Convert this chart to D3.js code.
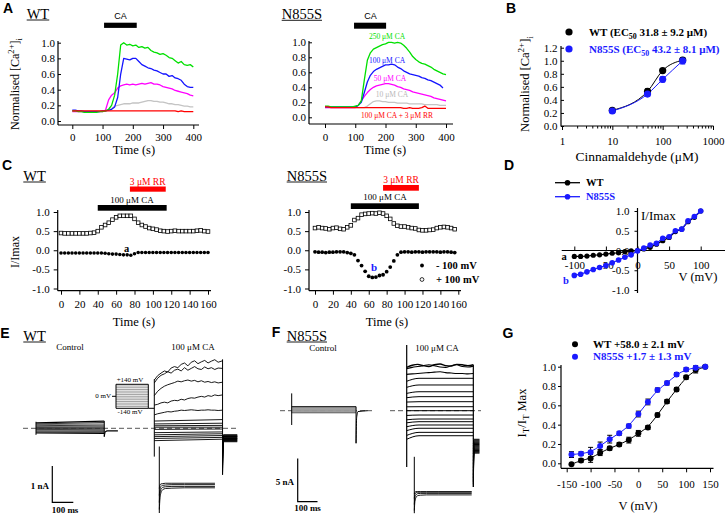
<!DOCTYPE html>
<html><head><meta charset="utf-8">
<script src="https://cdn.jsdelivr.net/npm/d3@7/dist/d3.min.js"></script>
<style>html,body{margin:0;padding:0;background:#fff;overflow:hidden}</style>
</head><body>
<script>
// ================= DATA =================
// Panel A: normalised [Ca2+]i time courses (time in s)
const aTime=[0,10,20,30,40,50,60,70,80,90,100,110,120,130,140,150,160,170,180,190,200,210,220,230,240,250,260,270,280,290,300,310,320,330,340,350,360,370,380,390,400];
const aWtGreen=[0.13,0.13,0.12,0.12,0.11,0.11,0.11,0.11,0.11,0.12,0.12,0.13,0.15,0.2,0.33,0.6,0.97,1.0,0.97,0.98,0.96,0.97,0.94,0.95,0.93,0.94,0.9,0.88,0.87,0.85,0.86,0.84,0.81,0.8,0.77,0.74,0.76,0.72,0.71,0.72,0.69];
const aWtBlue=[0.14,0.14,0.13,0.13,0.12,0.12,0.12,0.12,0.12,0.12,0.13,0.13,0.14,0.15,0.18,0.3,0.6,0.8,0.79,0.78,0.8,0.8,0.76,0.72,0.7,0.68,0.67,0.65,0.64,0.62,0.6,0.6,0.57,0.58,0.55,0.54,0.52,0.47,0.44,0.43,0.43];
const aWtMagenta=[0.12,0.12,0.12,0.12,0.12,0.12,0.12,0.12,0.12,0.12,0.12,0.14,0.27,0.33,0.36,0.42,0.45,0.46,0.47,0.46,0.47,0.46,0.47,0.48,0.47,0.48,0.49,0.47,0.47,0.46,0.44,0.43,0.42,0.41,0.39,0.38,0.37,0.36,0.35,0.33,0.32];
const aWtGray=[0.13,0.13,0.13,0.13,0.13,0.13,0.13,0.13,0.13,0.13,0.13,0.13,0.14,0.16,0.19,0.2,0.21,0.22,0.22,0.22,0.23,0.23,0.23,0.24,0.25,0.26,0.26,0.25,0.25,0.24,0.24,0.23,0.22,0.22,0.21,0.21,0.2,0.19,0.19,0.18,0.18];
const aWtRed=[0.13,0.13,0.13,0.13,0.13,0.13,0.13,0.13,0.13,0.13,0.13,0.13,0.13,0.13,0.13,0.13,0.13,0.13,0.13,0.13,0.13,0.13,0.13,0.13,0.13,0.13,0.13,0.13,0.13,0.13,0.13,0.13,0.13,0.13,0.13,0.12,0.13,0.12,0.12,0.12,0.12];
const aMutGreen=[0.15,0.15,0.14,0.14,0.14,0.14,0.14,0.14,0.14,0.14,0.15,0.16,0.22,0.5,0.76,0.86,0.91,0.93,0.95,0.97,0.98,1.0,1.0,0.99,1.0,0.99,0.96,0.92,0.87,0.81,0.77,0.74,0.72,0.71,0.69,0.67,0.64,0.62,0.6,0.58,0.57];
const aMutBlue=[0.14,0.14,0.14,0.14,0.14,0.14,0.14,0.14,0.14,0.14,0.14,0.16,0.2,0.33,0.47,0.56,0.61,0.64,0.66,0.68,0.7,0.7,0.71,0.7,0.67,0.65,0.62,0.6,0.58,0.57,0.56,0.55,0.53,0.52,0.5,0.49,0.47,0.45,0.43,0.39];
const aMutMagenta=[0.13,0.13,0.13,0.13,0.13,0.13,0.13,0.13,0.13,0.13,0.13,0.16,0.22,0.28,0.33,0.37,0.4,0.42,0.43,0.44,0.45,0.45,0.44,0.43,0.41,0.4,0.38,0.37,0.36,0.34,0.33,0.32,0.31,0.3,0.29,0.28,0.26,0.25,0.24,0.23,0.22];
const aMutGray=[0.13,0.13,0.13,0.13,0.13,0.13,0.13,0.13,0.13,0.13,0.13,0.13,0.13,0.13,0.15,0.18,0.21,0.22,0.22,0.21,0.21,0.2,0.2,0.2,0.19,0.19,0.19,0.19,0.18,0.18,0.18,0.18,0.18,0.17,0.17,0.17,0.17,0.17,0.16,0.16,0.16];
const aMutRed=[0.14,0.14,0.13,0.13,0.13,0.13,0.13,0.13,0.13,0.13,0.13,0.13,0.13,0.13,0.13,0.13,0.13,0.13,0.13,0.13,0.13,0.13,0.13,0.13,0.13,0.13,0.12,0.12,0.13,0.12,0.12,0.12,0.13,0.15,0.12,0.12,0.12,0.12,0.12,0.12,0.12];
const aMutLabels=["250 μM CA","100 μM CA","50 μM CA","10 μM CA","100 μM CA + 3 μM RR"];
const aCaBarWt=[105,213], aCaBarMut=[96,202];
const aTicksX=[0,100,200,300,400], aTicksY=[0,0.2,0.4,0.6,0.8,1.0];

// Panel B: dose response
const bConc=[10,50,100,250];
const bWt=[0.24,0.53,0.85,1.01], bWtErr=[0.02,0.04,0.03,0.03];
const bMut=[0.23,0.49,0.715,1.0], bMutErr=[0.02,0.03,0.04,0.05];
const bTicksX=[1,10,100,1000], bMinorX=[2,3,4,5,6,7,8,9,20,30,40,50,60,70,80,90,200,300,400,500,600,700,800,900];
const bTicksY=[0,0.2,0.4,0.6,0.8,1.0,1.2];

// Panel C: I/Imax vs time (s)
const cTime=[0,4,8,12,16,20,24,28,32,36,40,44,48,52,56,60,64,68,72,76,80,84,88,92,96,100,104,108,112,116,120,124,128,132,136,140,144,148,152,156,160];
const cWtPos=[0.45,0.44,0.44,0.44,0.44,0.44,0.44,0.44,0.45,0.46,0.5,0.6,0.66,0.72,0.8,0.86,0.9,0.9,0.9,0.9,0.82,0.72,0.66,0.62,0.58,0.56,0.54,0.51,0.5,0.49,0.5,0.51,0.5,0.5,0.5,0.5,0.5,0.51,0.52,0.5,0.49];
const cWtNeg=[-0.07,-0.07,-0.07,-0.07,-0.07,-0.07,-0.07,-0.07,-0.07,-0.07,-0.07,-0.07,-0.08,-0.09,-0.1,-0.1,-0.11,-0.12,-0.12,-0.13,-0.09,-0.06,-0.06,-0.06,-0.06,-0.06,-0.06,-0.06,-0.06,-0.06,-0.06,-0.06,-0.06,-0.06,-0.06,-0.06,-0.06,-0.06,-0.06,-0.06,-0.06];
const cMutPos=[0.58,0.6,0.58,0.57,0.55,0.58,0.59,0.56,0.55,0.6,0.65,0.79,0.84,0.93,0.95,0.96,0.97,0.96,0.98,0.96,0.9,0.82,0.7,0.64,0.62,0.62,0.6,0.58,0.57,0.53,0.52,0.52,0.53,0.54,0.58,0.6,0.61,0.6,0.58,0.55];
const cMutNeg=[-0.04,-0.05,-0.05,-0.06,-0.05,-0.05,-0.04,-0.04,-0.04,-0.06,-0.08,-0.12,-0.27,-0.4,-0.55,-0.68,-0.71,-0.7,-0.66,-0.64,-0.56,-0.44,-0.28,-0.12,-0.05,-0.04,-0.04,-0.05,-0.04,-0.04,-0.05,-0.04,-0.04,-0.04,-0.04,-0.05,-0.04,-0.04,-0.05,-0.06];
const cCaBarWt=[40,115], cRrBarWt=[75,114], cCaBarMut=[40,116], cRrBarMut=[76,116];
const cTicksX=[0,20,40,60,80,100,120,140,160], cTicksY=[-1,-0.5,0,0.5,1];

// Panel D: I-V
const dV=[-100,-90,-80,-70,-60,-50,-40,-30,-20,-10,0,10,20,30,40,50,60,70,80,90,100];
const dWt=[-0.15,-0.15,-0.14,-0.12,-0.11,-0.09,-0.07,-0.06,-0.03,-0.01,0,0.04,0.08,0.16,0.25,0.33,0.48,0.54,0.73,0.84,1.0];
const dMut=[-0.63,-0.6,-0.54,-0.48,-0.43,-0.38,-0.31,-0.24,-0.17,-0.11,-0.01,0.06,0.14,0.18,0.31,0.35,0.5,0.54,0.75,0.86,1.0];
const dTicksX=[-100,-50,0,50,100], dTicksY=[-1,-0.5,0,0.5,1];

// Panel E (WT currents, nA vs ms)
const eProtocolV=[-140,-120,-100,-80,-60,-40,-20,0,20,40,60,80,100,120,140];
const eCtrlEarly=[-0.13,-0.11,-0.09,-0.07,-0.05,-0.03,-0.01,0,0.02,0.03,0.05,0.07,0.1,0.12,0.15];
const eCtrlLate=[-0.14,-0.12,-0.1,-0.08,-0.06,-0.04,-0.02,0,0.02,0.04,0.06,0.09,0.12,0.16,0.2];
const eCtrlSpikes=[0.18,-0.18], eCtrlEndSpike=[0.2,-0.23];
const eCtrlTailT=[0,5,15,65], eCtrlTailV=[-0.23,-0.1,-0.07,-0.07];
const eSampleT=[0,16,32,48,64,80,96,112,128,144,160,176,192,208,224,240,256,272,288,304,325];
const eCaTop=[
 [1.33,1.45,1.52,1.58,1.55,1.66,1.7,1.67,1.76,1.8,1.72,1.82,1.86,1.78,1.83,1.87,1.8,1.85,1.89,1.82,1.86],
 [1.25,1.38,1.46,1.5,1.56,1.52,1.6,1.63,1.58,1.67,1.6,1.65,1.7,1.64,1.62,1.69,1.64,1.67,1.62,1.66,1.65],
 [0.9,1.02,1.1,1.16,1.2,1.23,1.26,1.3,1.28,1.31,1.33,1.3,1.32,1.28,1.31,1.27,1.29,1.26,1.28,1.25,1.27],
 [0.64,0.66,0.7,0.72,0.7,0.75,0.77,0.76,0.8,0.78,0.82,0.84,0.83,0.86,0.88,0.86,0.9,0.88,0.92,0.9,0.92],
 [0.37,0.4,0.42,0.44,0.46,0.45,0.47,0.48,0.5,0.49,0.5,0.51,0.5,0.49,0.5,0.5,0.51,0.5,0.5,0.49,0.5]];
const eCaLowEarly=[-0.34,-0.28,-0.23,-0.18,-0.12,-0.03,0.03,0.07,0.12,0.2];
const eCaLowLate=[-0.3,-0.25,-0.2,-0.15,-0.1,-0.02,0.03,0.08,0.14,0.24];
const eCaOnset=[1.35,-0.78], eCaEnd=[1.9,-1.28];
const eCaTailPeak=[-0.42,-0.46,-0.5,-0.55,-0.6,-0.65,-0.7,-0.76,-0.82,-0.88,-0.95,-1.02,-1.1,-1.2,-1.28];
const eCaTailEnd=[-0.37,-0.35,-0.34,-0.32,-0.31,-0.29,-0.28,-0.27,-0.26,-0.24,-0.23,-0.22,-0.21,-0.19,-0.18];
const eInsetT=[0,3,8,15,30,60,120,265];
const eInset=[[-0.9,-0.6,-0.42,-0.34,-0.3,-0.29,-0.28,-0.28],[-0.7,-0.45,-0.32,-0.27,-0.25,-0.24,-0.24,-0.24],[-0.5,-0.32,-0.24,-0.21,-0.2,-0.19,-0.19,-0.19],[-0.3,-0.2,-0.17,-0.16,-0.15,-0.15,-0.15,-0.15]];
const eInsetSpike=[0.9,-1.0];

// Panel F (N855S currents)
const fCtrlLevel=[-0.23,-0.18,-0.13,-0.08,-0.03,0,0.03,0.08,0.13,0.18,0.23,0.28,0.34,0.4,0.46];
const fCtrlOnset=[2.0,-1.65], fCtrlEnd=[0.46,-3.76];
const fCtrlTailT=[0,3,10,60], fCtrlTailV=[-3.76,-0.8,-0.1,0];
const fSampleT=[0,27,54,81,108,135,163,190,217,244,271,298,325];
const fCaTop=[
 [5.0,5.25,5.35,5.2,5.1,5.3,5.4,5.2,5.15,5.35,5.3,5.2,5.3],
 [4.85,5.0,5.1,5.2,5.3,5.2,5.05,5.0,5.2,5.3,5.1,5.05,5.15],
 [4.2,4.25,4.3,4.35,4.4,4.45,4.5,4.4,4.35,4.3,4.3,4.25,4.3]];
const fCaLowEarly=[-3.3,-2.85,-2.3,-1.85,-1.4,-1.05,-0.55,0,0.45,1.0,1.5,2.0,2.7,3.4];
const fCaLowLate=[-2.89,-2.5,-2.03,-1.65,-1.27,-0.96,-0.5,0,0.46,1.04,1.62,2.19,2.97,3.74];
const fCaOnset=[7.6,-6.5], fCaEnd=[5.3,-8.8];
const fCaTailPeak=[-3.2,-3.5,-3.8,-4.1,-4.4,-4.7,-5.0,-5.4,-5.8,-6.2,-6.6,-7.0,-7.4,-7.8,-8.2,-8.5,-8.8];
const fCaTailEnd=[-3.3,-3.4,-3.5,-3.6,-3.7,-3.8,-3.9,-4.0,-4.1,-4.2,-4.3,-4.4,-4.5,-4.6,-4.7,-4.8,-4.9];
const fInsetT=[0,3,8,15,30,60,120,280];
const fInset=[[-0.85,-0.55,-0.42,-0.36,-0.34,-0.33,-0.33,-0.33],[-0.65,-0.42,-0.33,-0.29,-0.28,-0.28,-0.28,-0.28],[-0.45,-0.3,-0.26,-0.24,-0.24,-0.24,-0.24,-0.24],[-0.3,-0.24,-0.22,-0.22,-0.22,-0.22,-0.22,-0.22]];
const fInsetSpike=[0.94,-0.94];

// Panel G: I_T/I_T Max vs V
const gV=[-140,-120,-100,-80,-60,-40,-20,0,20,40,60,80,100,120,140];
const gWt=[-0.01,0.03,0.05,0.11,0.155,0.195,0.24,0.31,0.37,0.5,0.64,0.765,0.89,0.965,1.0];
const gWtErr=[0.01,0.02,0.04,0.03,0.02,0.02,0.03,0.03,0.02,0.02,0.02,0.02,0.02,0.03,0.01];
const gMut=[0.09,0.1,0.115,0.18,0.25,0.31,0.385,0.51,0.635,0.76,0.83,0.92,0.97,0.99,1.0];
const gMutErr=[0.03,0.02,0.05,0.04,0.04,0.02,0.02,0.03,0.03,0.02,0.02,0.02,0.02,0.02,0.01];
const gTicksX=[-150,-100,-50,0,50,100,150], gTicksY=[0,0.2,0.4,0.6,0.8,1.0];

// ================= DRAWING =================
const SERIF="'Liberation Serif','Times New Roman',serif", SANS="'Liberation Sans',Arial,sans-serif";
const GREEN="#00e000", BLUEA="#1414ff", MAG="#ff00ff", GRAY="#c4c4c4", RED="#ff0000", BLUE="#1a1aff";
const svg=d3.select("body").append("svg").attr("width",726).attr("height",515).style("display","block").style("background","#fff");
const f1=d=>d.toFixed(1), fi=d=>String(d);

function txt(x,yc,s,o={}){
  const fs=o.size||11;
  const t=svg.append("text").attr("x",x).attr("y",yc+0.34*fs).attr("text-anchor",o.anchor||"middle")
    .attr("font-family",o.family||SERIF).attr("font-size",fs).attr("font-weight",o.weight||"normal")
    .attr("fill",o.color||"#000").text(s);
  return t;
}
function rich(x,yc,parts,o={}){
  const fs=o.size||11;
  let bx=x, by=yc+0.34*fs;
  if(o.rotate){bx=x+0.34*fs; by=yc;}
  const t=svg.append("text").attr("x",bx).attr("y",by).attr("text-anchor",o.anchor||"start")
    .attr("font-family",o.family||SERIF).attr("font-size",fs).attr("font-weight",o.weight||"normal")
    .attr("fill",o.color||"#000");
  if(o.rotate) t.attr("transform",`rotate(-90,${bx},${by})`);
  let shift=0;
  parts.forEach(p=>{
    const s=p.sup?-0.4*fs:p.sub?0.28*fs:0;
    t.append("tspan").attr("dy",s-shift).attr("font-size",(p.sup||p.sub)?fs*0.72:fs).text(p.t);
    shift=s;
  });
  return t;
}
function letter(x,yc,s){ txt(x,yc,s,{family:SANS,weight:"bold",size:14}); }
function underlined(x,yc,s,size){
  const t=txt(x,yc,s,{anchor:"start",size:size||14.5});
  const w=t.node().getComputedTextLength();
  svg.append("line").attr("x1",x).attr("x2",x+w).attr("y1",yc+6).attr("y2",yc+6).attr("stroke","#000").attr("stroke-width",0.9);
}
function styleAxis(g){
  g.select(".domain").remove();
  g.selectAll(".tick text").attr("font-family",SERIF).attr("font-size",11).attr("fill","#000");
  g.selectAll(".tick line").attr("stroke","#000").attr("stroke-width",1);
}
function xAxis(sc,y,ticks,fmt,x0,x1,ts,pad){
  const g=svg.append("g").attr("transform",`translate(0,${y})`)
    .call(d3.axisBottom(sc).tickValues(ticks).tickFormat(fmt).tickSize(ts).tickPadding(pad));
  styleAxis(g);
  g.append("line").attr("x1",x0).attr("x2",x1).attr("stroke","#000").attr("stroke-width",1.2);
  return g;
}
function yAxis(sc,x,ticks,fmt,y0,y1,ts,pad){
  const g=svg.append("g").attr("transform",`translate(${x},0)`)
    .call(d3.axisLeft(sc).tickValues(ticks).tickFormat(fmt).tickSize(ts).tickPadding(pad));
  styleAxis(g);
  g.append("line").attr("y1",y0).attr("y2",y1).attr("stroke","#000").attr("stroke-width",1.2);
  return g;
}
function path(pts,xs,ys,color,w,curve){
  const ln=d3.line().x(d=>xs(d[0])).y(d=>ys(d[1]));
  if(curve) ln.curve(curve);
  return svg.append("path").attr("d",ln(pts)).attr("fill","none").attr("stroke",color).attr("stroke-width",w).attr("stroke-linejoin","round");
}
const zip=(t,v)=>v.map((d,i)=>[t[i],d]);
function vline(x,ya,yb,w,c){svg.append("line").attr("x1",x).attr("x2",x).attr("y1",ya).attr("y2",yb).attr("stroke",c||"#000").attr("stroke-width",w||1);}
function hbar(xs,range,y,h,color){svg.append("rect").attr("x",xs(range[0])).attr("width",xs(range[1])-xs(range[0])).attr("y",y).attr("height",h).attr("fill",color);}

// ---------- Panel A ----------
letter(8,8,"A"); underlined(26.7,14,"WT"); underlined(281.7,14.3,"N855S");
const axW=d3.scaleLinear().domain([0,400]).range([72.3,193.3]);
const ayW=d3.scaleLinear().domain([0,1]).range([121,42.7]);
xAxis(axW,125,aTicksX,fi,58,199,4,4);
yAxis(ayW,58,aTicksY,f1,41,125,-3,3);
txt(134,150,"Time (s)",{size:12.5});
rich(15,84,[{t:"Normalised [Ca"},{t:"2+",sup:true},{t:"]"},{t:"i",sub:true}],{rotate:true,anchor:"middle",size:12});
hbar(axW,aCaBarWt,22.7,5.2,"#000"); txt(120.5,16.3,"CA",{family:SANS,size:9});
[[aWtGray,GRAY],[aWtMagenta,MAG],[aWtBlue,BLUEA],[aWtGreen,GREEN],[aWtRed,RED]].forEach(s=>path(zip(aTime,s[0]),axW,ayW,s[1],1.3));

const axM=d3.scaleLinear().domain([0,400]).range([325,446]);
const ayM=d3.scaleLinear().domain([0,1]).range([117.3,42.3]);
xAxis(axM,124,aTicksX,fi,309,453,4,5);
yAxis(ayM,309,aTicksY,f1,41,124,-3,3);
txt(385,150,"Time (s)",{size:12.5});
hbar(axM,aCaBarMut,22.7,6,"#000"); txt(370.5,16,"CA",{family:SANS,size:9});
[[aMutGray,GRAY],[aMutMagenta,MAG],[aMutBlue,BLUEA],[aMutGreen,GREEN],[aMutRed,RED]].forEach(s=>path(zip(aTime,s[0]),axM,ayM,s[1],1.3));
[[387,36,GREEN],[387,60,BLUEA],[390,78,MAG],[392,94,"#b8b8b8"],[397,115,RED]].forEach((p,i)=>txt(p[0],p[1],aMutLabels[i],{size:7.5,color:p[2]}));

// ---------- Panel B ----------
letter(511,8,"B");
const bx=d3.scaleLog().domain([1,1000]).range([562,713]);
const by=d3.scaleLinear().domain([0,1.2]).range([126,47.7]);
xAxis(bx,126,bTicksX,fi,561,713.5,4,7);
{const g=svg.append("g").attr("transform","translate(0,126)").call(d3.axisBottom(bx).tickValues(bMinorX).tickFormat("").tickSize(2.5)); styleAxis(g);}
yAxis(by,561,bTicksY,f1,46,126.5,-3,3.5);
txt(637,156,"Cinnamaldehyde (μM)",{size:13.5});
rich(525,84,[{t:"Normalised [Ca"},{t:"2+",sup:true},{t:"]"},{t:"i",sub:true}],{rotate:true,anchor:"middle",size:12.5});
function errs(xs,ys,xv,yv,ev,c,cap){
  xv.forEach((x,i)=>{const X=xs(x);
    svg.append("line").attr("x1",X).attr("x2",X).attr("y1",ys(yv[i]-ev[i])).attr("y2",ys(yv[i]+ev[i])).attr("stroke",c).attr("stroke-width",1);
    [yv[i]-ev[i],yv[i]+ev[i]].forEach(e=>svg.append("line").attr("x1",X-cap).attr("x2",X+cap).attr("y1",ys(e)).attr("y2",ys(e)).attr("stroke",c).attr("stroke-width",1));});
}
function circles(xs,ys,xv,yv,r,fill,stroke,sw){
  svg.append("g").selectAll("circle").data(yv).join("circle").attr("cx",(d,i)=>xs(xv[i])).attr("cy",d=>ys(d)).attr("r",r)
    .attr("fill",fill).attr("stroke",stroke||"none").attr("stroke-width",sw||0);
}
errs(bx,by,bConc,bWt,bWtErr,"#000",2.5);
errs(bx,by,bConc,bMut,bMutErr,BLUE,2.5);
path(zip(bConc,bWt),bx,by,"#000",1,d3.curveMonotoneX);
path(zip(bConc,bMut),bx,by,BLUE,1,d3.curveMonotoneX);
circles(bx,by,bConc,bWt,3.6,"#000");
circles(bx,by,bConc,bMut,3.6,BLUE);
svg.append("circle").attr("cx",569).attr("cy",32).attr("r",3.6).attr("fill","#000");
svg.append("circle").attr("cx",569).attr("cy",49).attr("r",3.6).attr("fill",BLUE);
rich(589,32,[{t:"WT (EC"},{t:"50",sub:true},{t:" 31.8 ± 9.2 μM)"}],{weight:"bold",size:11});
rich(589,49,[{t:"N855S (EC"},{t:"50",sub:true},{t:" 43.2 ± 8.1 μM)"}],{weight:"bold",size:11,color:BLUE});

// ---------- Panel C ----------
letter(7,165,"C"); underlined(23.3,176,"WT"); underlined(286.7,176,"N855S");
const cxW=d3.scaleLinear().domain([0,160]).range([61,208]);
const cxM=d3.scaleLinear().domain([0,160]).range([315,458.3]);
const cy=d3.scaleLinear().domain([-1,1]).range([288.5,212]);
xAxis(cxW,290.7,cTicksX,fi,57.7,211,4,6);
yAxis(cy,57.7,cTicksY,f1,210,290.7,4,4);
xAxis(cxM,290.7,cTicksX,fi,309,461,4,6);
yAxis(cy,309,cTicksY,f1,210,290.7,4,4);
txt(134,321.5,"Time (s)",{size:12.5});
txt(387,321.5,"Time (s)",{size:12.5});
txt(15,252,"I/Imax",{size:12}).attr("transform","rotate(-90,15,252)").attr("y",252+4);
hbar(cxW,cRrBarWt,186.5,5.2,RED); txt(147.7,181.5,"3 μM RR",{size:9.5,color:RED});
hbar(cxW,cCaBarWt,205,5.7,"#000"); txt(132,199.5,"100 μM CA",{size:9});
hbar(cxM,cRrBarMut,185,5.7,RED); txt(401,179.3,"3 μM RR",{size:9.5,color:RED});
hbar(cxM,cCaBarMut,203.3,5.7,"#000"); txt(385,197,"100 μM CA",{size:9});
function squares(xs,ys,tv,yv){
  svg.append("g").selectAll("rect").data(yv).join("rect").attr("x",(d,i)=>xs(tv[i])-1.8).attr("y",d=>ys(d)-1.8)
    .attr("width",3.6).attr("height",3.6).attr("fill","#fff").attr("stroke","#000").attr("stroke-width",0.8);
}
squares(cxW,cy,cTime,cWtPos); circles(cxW,cy,cTime,cWtNeg,1.8,"#000");
squares(cxM,cy,cTime,cMutPos); circles(cxM,cy,cTime,cMutNeg,1.9,"#000");
txt(126.7,248,"a",{weight:"bold",size:10.5});
txt(374,267.3,"b",{weight:"bold",size:11,color:BLUE});
svg.append("circle").attr("cx",422).attr("cy",265.5).attr("r",1.9).attr("fill","#000");
svg.append("circle").attr("cx",422).attr("cy",279.5).attr("r",1.9).attr("fill","#fff").attr("stroke","#000").attr("stroke-width",0.8);
txt(436,265.5,"- 100 mV",{anchor:"start",weight:"bold",size:10.5});
txt(436,279.5,"+ 100 mV",{anchor:"start",weight:"bold",size:10.5});

// ---------- Panel D ----------
letter(509,165,"D");
const dx=d3.scaleLinear().domain([-100,100]).range([574.3,700.7]);
const dy=d3.scaleLinear().domain([-1,1]).range([290,211]);
xAxis(dx,dy(0),dTicksX,fi,561.7,725,-4,11);
yAxis(dy,dx(0),dTicksY,f1,208,293,3,5);
txt(641,216,"I/Imax",{size:13,anchor:"start"});
txt(698,276.7,"V (mV)",{size:12.5});
path(zip(dV,dWt),dx,dy,"#000",1.2);
circles(dx,dy,dV,dWt,2.6,"#000");
path(zip(dV,dMut),dx,dy,BLUE,1.2);
circles(dx,dy,dV,dMut,2.8,BLUE);
txt(564,256.7,"a",{weight:"bold",size:10.5});
txt(566,280,"b",{weight:"bold",size:10.5,color:BLUE});
svg.append("line").attr("x1",555).attr("x2",580).attr("y1",182.7).attr("y2",182.7).attr("stroke","#000").attr("stroke-width",1.3);
svg.append("circle").attr("cx",567.5).attr("cy",182.7).attr("r",2.8).attr("fill","#000");
svg.append("line").attr("x1",555).attr("x2",580).attr("y1",196.7).attr("y2",196.7).attr("stroke",BLUE).attr("stroke-width",1.3);
svg.append("circle").attr("cx",567.5).attr("cy",196.7).attr("r",2.8).attr("fill",BLUE);
txt(586,182.7,"WT",{anchor:"start",weight:"bold",size:10.5});
txt(586,196.7,"N855S",{anchor:"start",weight:"bold",size:10.5,color:BLUE});

// ---------- Panel E ----------
letter(5,333,"E"); underlined(23.3,336,"WT");
txt(70,347.3,"Control",{size:9}); txt(193,347.3,"100 μM CA",{size:9});
const eY=d3.scaleLinear().domain([0,1]).range([428.3,392]);
const eXc=d3.scaleLinear().domain([0,100]).range([36,57]);
const eXa=d3.scaleLinear().domain([0,100]).range([154.3,175.3]);
const eInY=d3.scaleLinear().domain([0,-1]).range([478,513]);
const eInX=d3.scaleLinear().domain([0,100]).range([159.3,180.3]);
const eProtoY=d3.scaleLinear().domain([-140,140]).range([408.3,384.3]);
svg.append("line").attr("x1",23).attr("x2",237).attr("y1",eY(0)).attr("y2",eY(0)).attr("stroke","#444").attr("stroke-width",0.9).attr("stroke-dasharray","5,3");
// control
eCtrlEarly.forEach((v,i)=>{const outer=(i===0||i===eCtrlEarly.length-1);
  path([[0,v],[325,eCtrlLate[i]]],eXc,eY,outer?"#000":(i%2?"#222":"#666"),outer?1.2:0.9);});
vline(eXc(0),eY(eCtrlSpikes[0]),eY(eCtrlSpikes[1]),1);
vline(eXc(325),eY(eCtrlEndSpike[0]),eY(eCtrlEndSpike[1]),1);
path(zip(eCtrlTailT.map(t=>t+325),eCtrlTailV),eXc,eY,"#000",1.1,d3.curveMonotoneX);
// protocol
eProtocolV.forEach((v,i)=>{const outer=(i===0||i===eProtocolV.length-1);
  svg.append("line").attr("x1",116).attr("x2",148.3).attr("y1",eProtoY(v)).attr("y2",eProtoY(v)).attr("stroke",outer?"#000":"#888").attr("stroke-width",outer?1:0.8);});
vline(116,eProtoY(140),eProtoY(-140),1); vline(148.3,eProtoY(140),eProtoY(-140),1);
svg.append("line").attr("x1",148.3).attr("x2",154.3).attr("y1",eProtoY(-140)).attr("y2",eProtoY(-140)).attr("stroke","#000");
svg.append("line").attr("x1",112).attr("x2",116).attr("y1",eProtoY(0)).attr("y2",eProtoY(0)).attr("stroke","#000");
txt(130,380,"+140 mV",{size:7}); txt(111,395.5,"0 mV",{size:7,anchor:"end"}); txt(130,411.5,"-140 mV",{size:7});
// CA
eCaLowEarly.forEach((v,i)=>path([[0,v],[325,eCaLowLate[i]]],eXa,eY,"#000",0.9));
eCaTop.slice().reverse().forEach(s=>path(zip(eSampleT,s),eXa,eY,"#000",0.9));
vline(eXa(0),eY(eCaOnset[0]),eY(eCaOnset[1]),1);
vline(eXa(325),eY(eCaEnd[0]),eY(eCaEnd[1]),1);
eCaTailPeak.forEach((p,i)=>path([[325,p],[329,eCaTailEnd[i]],[395,eCaTailEnd[i]]],eXa,eY,"#000",1,d3.curveMonotoneX));
// inset
vline(eInX(0),eInY(eInsetSpike[0]),eInY(eInsetSpike[1]),1);
eInset.forEach(s=>path(zip(eInsetT,s),eInX,eInY,"#000",0.9,d3.curveMonotoneX));
// scale bar
svg.append("path").attr("d",`M52.3,${502.3-(eY(0)-eY(1))}V502.3H${52.3+eXc(100)-eXc(0)}`).attr("fill","none").attr("stroke","#000").attr("stroke-width",1.2);
txt(49,485.7,"1 nA",{anchor:"end",weight:"bold",size:9});
txt(65,509.5,"100 ms",{weight:"bold",size:9});

// ---------- Panel F ----------
letter(276,332.5,"F"); underlined(286.7,336,"N855S");
txt(323,348,"Control",{size:9}); txt(437,348,"100 μM CA",{size:9});
const fY=d3.scaleLinear().domain([0,5]).range([410.7,367.4]);
const fXc=d3.scaleLinear().domain([0,100]).range([291.7,311.5]);
const fXa=d3.scaleLinear().domain([0,100]).range([406.7,427.2]);
const fInY=d3.scaleLinear().domain([0,-1]).range([485,515]);
const fInX=d3.scaleLinear().domain([0,100]).range([414.3,434.8]);
[[280,372],[390,481]].forEach(r=>svg.append("line").attr("x1",r[0]).attr("x2",r[1]).attr("y1",fY(0)).attr("y2",fY(0)).attr("stroke","#444").attr("stroke-width",0.9).attr("stroke-dasharray","5,3"));
fCtrlLevel.forEach((v,i)=>{const outer=(i===0||i===fCtrlLevel.length-1);
  path([[0,v],[325,v]],fXc,fY,outer?"#000":"#999",outer?1:0.8);});
vline(fXc(0),fY(fCtrlOnset[0]),fY(fCtrlOnset[1]),1);
vline(fXc(325),fY(fCtrlEnd[0]),fY(fCtrlEnd[1]),1);
path(zip(fCtrlTailT.map(t=>t+325),fCtrlTailV),fXc,fY,"#000",1,d3.curveMonotoneX);
fCaLowEarly.forEach((v,i)=>path([[0,v],[60,fCaLowLate[i]],[325,fCaLowLate[i]]],fXa,fY,"#000",1,d3.curveMonotoneX));
fCaTop.slice().reverse().forEach((s,i)=>path(zip(fSampleT,s),fXa,fY,"#000",i===2?1.4:1.1,d3.curveMonotoneX));
vline(fXa(0),fY(fCaOnset[0]),fY(fCaOnset[1]),1.2);
vline(fXa(325),fY(fCaEnd[0]),fY(fCaEnd[1]),1.2);
fCaTailPeak.forEach((p,i)=>path([[325,p],[328,(fCaTailEnd[i])],[355,fCaTailEnd[i]]],fXa,fY,"#000",1,d3.curveMonotoneX));
vline(fInX(0),fInY(fInsetSpike[0]),fInY(fInsetSpike[1]),1);
fInset.forEach(s=>path(zip(fInsetT,s),fInX,fInY,"#000",0.9,d3.curveMonotoneX));
svg.append("path").attr("d",`M297.7,${501.7-(fY(0)-fY(5))}V501.7H${297.7+fXc(100)-fXc(0)}`).attr("fill","none").attr("stroke","#000").attr("stroke-width",1.2);
txt(294,481.7,"5 nA",{anchor:"end",weight:"bold",size:9});
txt(307.5,508,"100 ms",{weight:"bold",size:9});

// ---------- Panel G ----------
letter(508,333,"G");
const gx=d3.scaleLinear().domain([-150,150]).range([566.7,710]);
const gy=d3.scaleLinear().domain([0,1]).range([463.3,366.7]);
xAxis(gx,468.3,gTicksX,fi,561,713.5,4,7.5);
yAxis(gy,561,gTicksY,f1,365,468.3,3,2);
txt(638,505.7,"V (mV)",{size:12.5});
rich(521.7,413,[{t:"I"},{t:"T",sub:true},{t:"/I"},{t:"T",sub:true},{t:" Max"}],{rotate:true,anchor:"middle",size:12.5});
path(zip(gV,gWt),gx,gy,"#000",1,d3.curveBasis);
path(zip(gV,gMut),gx,gy,BLUE,1,d3.curveBasis);
errs(gx,gy,gV,gWt,gWtErr,"#000",2.5);
errs(gx,gy,gV,gMut,gMutErr,"#000",2.5);
circles(gx,gy,gV,gWt,3,"#000");
circles(gx,gy,gV,gMut,3,BLUE);
svg.append("circle").attr("cx",575).attr("cy",344.3).attr("r",3).attr("fill","#000");
svg.append("circle").attr("cx",575).attr("cy",356.7).attr("r",3).attr("fill",BLUE);
txt(593,344.3,"WT +58.0 ± 2.1 mV",{anchor:"start",weight:"bold",size:11});
txt(593,356.7,"N855S +1.7 ± 1.3 mV",{anchor:"start",weight:"bold",size:11,color:BLUE});
</script>
</body></html>
